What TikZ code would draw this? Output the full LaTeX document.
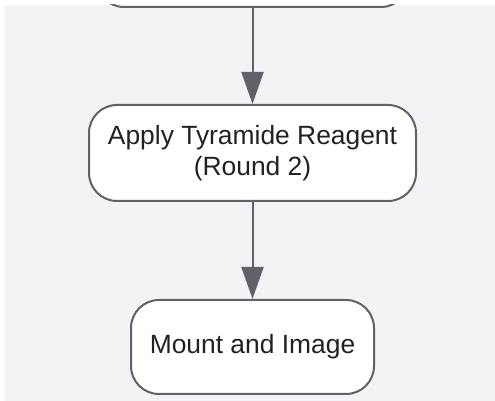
\documentclass[tikz,border=0pt]{standalone}
\usepackage{fontspec}
\setmainfont{Liberation Sans}
\usepackage{tikz}
\usetikzlibrary{arrows.meta, positioning}
\definecolor{edgegray}{RGB}{95,98,104}
\definecolor{canvas}{RGB}{242,243,245}
\definecolor{ink}{RGB}{34,34,34}
\tikzstyle{stage} = [draw=edgegray, fill=white, line width=2pt, rectangle, rounded corners=28pt, align=center, inner sep=0pt, text=ink, font=\fontsize{26.4}{31}\selectfont]
\tikzstyle{flow} = [-{Triangle[length=32pt, width=22pt]}, line width=2pt, draw=edgegray, fill=edgegray]

\begin{document}
\begin{tikzpicture}[x=1pt, y=1pt]
    \useasboundingbox (0,0) rectangle (495,401);
    \fill [canvas] (5,0) rectangle (495,396);
    \begin{scope}
        \clip (5,0) rectangle (495,396);

        % Steps.
        \node (round2) [stage, minimum width=327pt, minimum height=96pt] at (252.5,248) {Apply Tyramide Reagent\\(Round 2)};
        \node (prev) [stage, minimum width=313pt, minimum height=96pt, above=96pt of round2] {};
        \node (mount) [stage, minimum width=243pt, minimum height=94pt, below=97pt of round2] {Mount and Image};

        % Arrows.
        \draw [flow] (prev) -- (round2);
        \draw [flow] (round2) -- (mount);
    \end{scope}
\end{tikzpicture}
\end{document}
